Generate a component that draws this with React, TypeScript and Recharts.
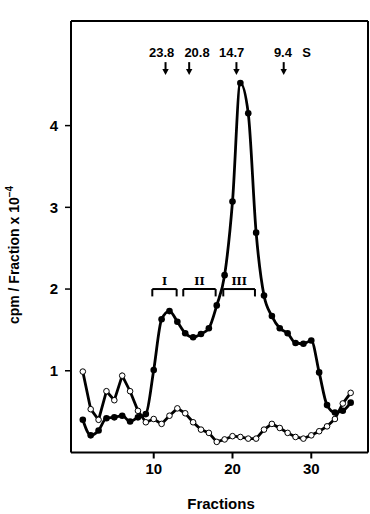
import React from 'react';
import { LineChart, Line, XAxis, YAxis, ReferenceLine, ReferenceDot } from 'recharts';

const fractions = [1, 2, 3, 4, 5, 6, 7, 8, 9, 10, 11, 12, 13, 14, 15, 16, 17, 18, 19, 20, 21, 22, 23, 24, 25, 26, 27, 28, 29, 30, 31, 32, 33, 34, 35];
const closedCpm = [0.40, 0.21, 0.27, 0.42, 0.43, 0.45, 0.38, 0.43, 0.47, 1.01, 1.63, 1.73, 1.60, 1.46, 1.41, 1.45, 1.52, 1.80, 2.17, 3.07, 4.52, 4.15, 2.69, 1.92, 1.67, 1.52, 1.46, 1.34, 1.33, 1.37, 0.98, 0.58, 0.49, 0.51, 0.61];
const openCpm = [0.99, 0.53, 0.40, 0.75, 0.64, 0.94, 0.75, 0.51, 0.37, 0.41, 0.35, 0.45, 0.54, 0.48, 0.37, 0.28, 0.24, 0.13, 0.16, 0.20, 0.19, 0.17, 0.17, 0.28, 0.35, 0.30, 0.24, 0.19, 0.17, 0.21, 0.26, 0.32, 0.41, 0.60, 0.73];

const xTicks = [10, 20, 30];
const yTicks = [1, 2, 3, 4];

// sedimentation markers (S values) along the top
const markerLabels = ['23.8', '20.8', '14.7', '9.4'];
const markerFractions = [11.5, 14.5, 20.5, 26.5];
const markerLabelFractions = [11.0, 15.5, 19.9, 26.4];

// pooled peak regions
const poolLabels = ['I', 'II', 'III'];
const poolStart = [9.82, 13.75, 18.83];
const poolEnd = [12.91, 17.86, 22.85];

const X_MIN = -0.5;
const X_MAX = 37.2;
const Y_MAX = 5.28;

const data = fractions.map((f, i) => ({ fraction: f, closed: closedCpm[i], open: openCpm[i] }));

const font = '"Liberation Sans", Arial, sans-serif';

const ArrowShape = (props: any) => {
    const { cx, cy } = props;
    return (
        <g>
            <line x1={cx} y1={cy - 12} x2={cx} y2={cy - 4} stroke="#000" strokeWidth={2} />
            <path d={`M${cx - 3.2},${cy - 5} L${cx + 3.2},${cy - 5} L${cx},${cy + 1} Z`} fill="#000" />
        </g>
    );
};

const textShape = (label: string, size: number, family = font) => (props: any) => (
    <text x={props.cx} y={props.cy} textAnchor="middle" dominantBaseline="central" fontFamily={family} fontWeight="bold" fontSize={size} fill="#000">
        {label}
    </text>
);

export default function App() {
    return (
        <div style={{ position: 'absolute', left: 0, top: 0, width: 370, height: 514, background: '#fff' }}>
            <LineChart width={370} height={514} data={data} margin={{ top: 21, right: 2, bottom: 0, left: 0 }}>
                <XAxis
                    dataKey="fraction"
                    type="number"
                    domain={[X_MIN, X_MAX]}
                    ticks={xTicks}
                    allowDataOverflow
                    height={61.5}
                    stroke="#000"
                    axisLine={{ stroke: '#000', strokeWidth: 2 }}
                    tickLine={{ stroke: '#000', strokeWidth: 2 }}
                    tickSize={6}
                    tickMargin={5}
                    tick={{ fill: '#000', fontSize: 15, fontWeight: 'bold', fontFamily: font }}
                />
                <YAxis
                    type="number"
                    domain={[0, Y_MAX]}
                    ticks={yTicks}
                    allowDataOverflow
                    width={71}
                    stroke="#000"
                    axisLine={{ stroke: '#000', strokeWidth: 2 }}
                    tickLine={{ stroke: '#000', strokeWidth: 1.5 }}
                    tickSize={6}
                    tickMargin={7}
                    tick={{ fill: '#000', fontSize: 15, fontWeight: 'bold', fontFamily: font }}
                />
                <ReferenceLine y={Y_MAX} stroke="#000" strokeWidth={2} />
                <ReferenceLine x={X_MAX} stroke="#000" strokeWidth={2} />

                {markerFractions.map((f, i) => (
                    <ReferenceDot key={'a' + i} x={f} y={4.63} r={0} shape={ArrowShape} />
                ))}
                {markerLabels.map((l, i) => (
                    <ReferenceDot key={'l' + i} x={markerLabelFractions[i]} y={4.9} r={0} shape={textShape(l, 13)} />
                ))}
                <ReferenceDot x={29.4} y={4.9} r={0} shape={textShape('S', 13)} />

                {poolLabels.map((l, i) => (
                    <React.Fragment key={'p' + i}>
                        <ReferenceLine segment={[{ x: poolStart[i], y: 2.0 }, { x: poolEnd[i], y: 2.0 }]} stroke="#000" strokeWidth={2} />
                        <ReferenceLine segment={[{ x: poolStart[i], y: 2.0 }, { x: poolStart[i], y: 1.91 }]} stroke="#000" strokeWidth={2} />
                        <ReferenceLine segment={[{ x: poolEnd[i], y: 2.0 }, { x: poolEnd[i], y: 1.91 }]} stroke="#000" strokeWidth={2} />
                        <ReferenceDot x={(poolStart[i] + poolEnd[i]) / 2} y={2.09} r={0} shape={textShape(l, 11, '"DejaVu Serif", serif')} />
                    </React.Fragment>
                ))}

                <Line
                    type="linear"
                    dataKey="open"
                    stroke="#000"
                    strokeWidth={2.8}
                    dot={{ r: 2.8, fill: '#fff', stroke: '#000', strokeWidth: 1 }}
                    isAnimationActive={false}
                />
                <Line
                    type="monotone"
                    dataKey="closed"
                    stroke="#000"
                    strokeWidth={2.8}
                    dot={{ r: 3.3, fill: '#000', stroke: '#000', strokeWidth: 0 }}
                    isAnimationActive={false}
                />
            </LineChart>
            <div
                style={{
                    position: 'absolute',
                    left: 13,
                    top: 255,
                    transform: 'translate(-50%, -50%) rotate(-90deg)',
                    whiteSpace: 'nowrap',
                    fontFamily: font,
                    fontWeight: 'bold',
                    fontSize: 14,
                }}
            >
                cpm / Fraction x 10<sup style={{ fontSize: 10 }}>−4</sup>
            </div>
            <div
                style={{
                    position: 'absolute',
                    left: 221,
                    top: 503,
                    transform: 'translate(-50%, -50%)',
                    whiteSpace: 'nowrap',
                    fontFamily: font,
                    fontWeight: 'bold',
                    fontSize: 15,
                }}
            >
                Fractions
            </div>
        </div>
    );
}
